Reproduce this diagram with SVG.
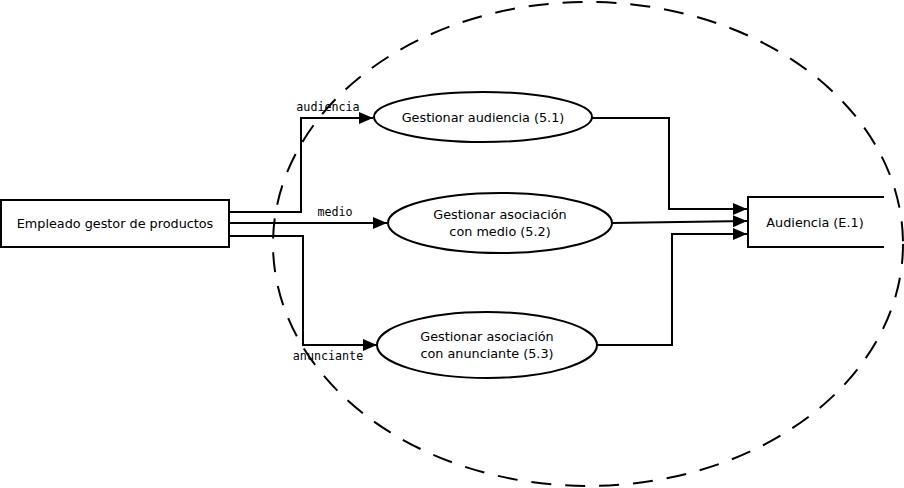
<svg xmlns="http://www.w3.org/2000/svg" width="904" height="488" viewBox="0 0 904 488">
<defs>
<style>
.n{fill:#fff;stroke:#000;stroke-width:2}
.t{font-family:"DejaVu Sans",sans-serif;font-size:12.8px;fill:#000;text-anchor:middle}
.l{font-family:"DejaVu Sans Mono",monospace;font-size:11.7px;fill:#000;text-anchor:middle}
.c{fill:none;stroke:#000;stroke-width:2}
</style>
<marker id="a" viewBox="0 0 14 12" refX="14" refY="6" markerWidth="14" markerHeight="12" markerUnits="userSpaceOnUse" orient="auto">
<path d="M0,0 L14,6 L0,12 Z" fill="#000"/>
</marker>
</defs>
<rect width="904" height="488" fill="#fff"/>
<g id="connectors">
<polyline class="c" points="229,212 301,212 301,118 373,118" marker-end="url(#a)"/>
<polyline class="c" points="229,223 387,223" marker-end="url(#a)"/>
<polyline class="c" points="229,236 303,236 303,345 377,345" marker-end="url(#a)"/>
<polyline class="c" points="592,118 669,118 669,209 747,209" marker-end="url(#a)"/>
<polyline class="c" points="612,223 747,221" marker-end="url(#a)"/>
<polyline class="c" points="597,345 672,345 672,234 747,234" marker-end="url(#a)"/>
<text class="l" x="328" y="111">audiencia</text>
<text class="l" x="335" y="216">medio</text>
<text class="l" x="328" y="360">anunciante</text>
</g>
<g id="empleado">
<rect class="n" x="1" y="200" width="228" height="47"/>
<text class="t" x="115" y="228">Empleado gestor de productos</text>
</g>
<g id="p51">
<ellipse class="n" cx="483" cy="117" rx="109" ry="25"/>
<text class="t" x="483" y="122">Gestionar audiencia (5.1)</text>
</g>
<g id="p52">
<ellipse class="n" cx="500" cy="223" rx="112" ry="30"/>
<text class="t" x="500" y="219">Gestionar asociación</text>
<text class="t" x="500" y="236">con medio (5.2)</text>
</g>
<g id="p53">
<ellipse class="n" cx="487" cy="345" rx="110" ry="33"/>
<text class="t" x="487" y="341">Gestionar asociación</text>
<text class="t" x="487" y="358">con anunciante (5.3)</text>
</g>
<g id="e1">
<rect x="748" y="197" width="136" height="50" fill="#fff"/>
<polyline class="c" points="884,197 748,197 748,247 884,247"/>
<text class="t" x="815" y="227">Audiencia (E.1)</text>
</g>
<g id="boundary">
<ellipse cx="588" cy="244" rx="315" ry="242" fill="none" stroke="#000" stroke-width="2" stroke-dasharray="20,14"/>
</g>
</svg>
